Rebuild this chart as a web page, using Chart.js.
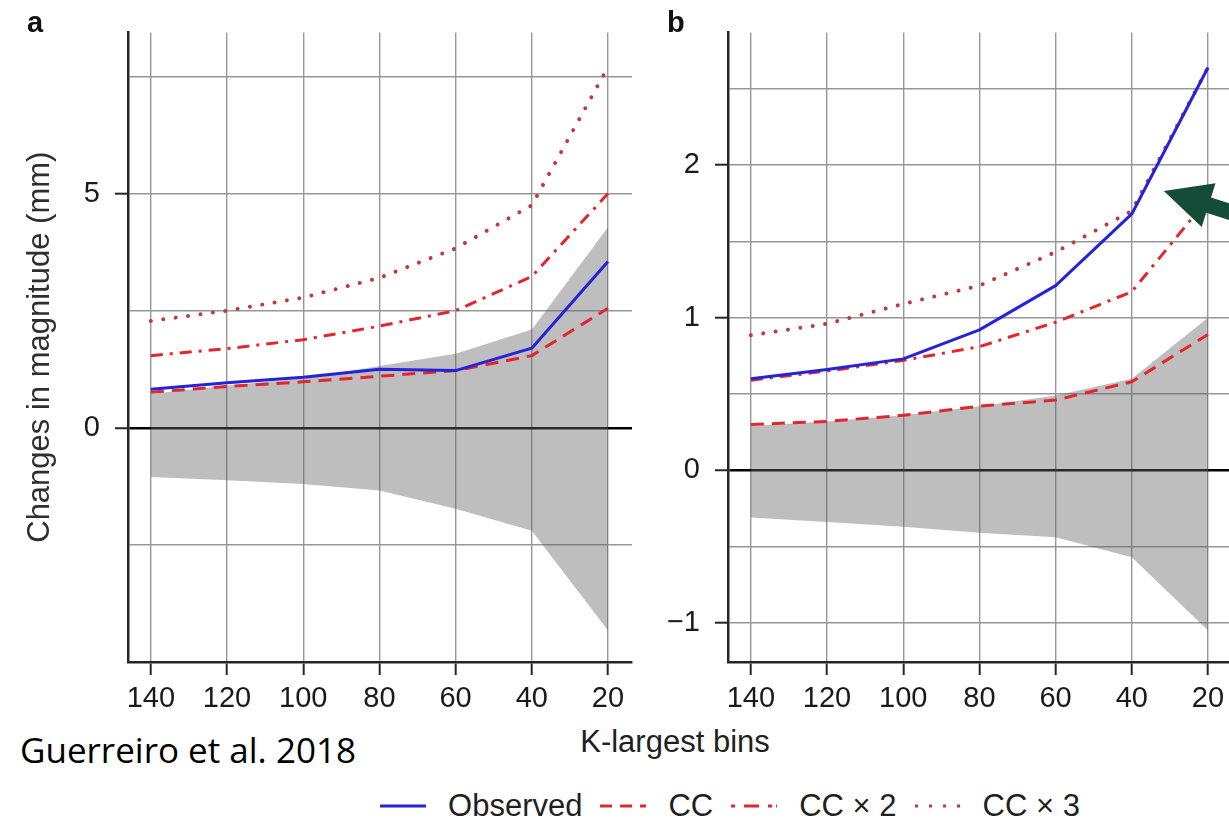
<!DOCTYPE html>
<html>
<head>
<meta charset="utf-8">
<script src="https://cdn.jsdelivr.net/npm/chart.js@4/dist/chart.umd.min.js"></script>
<style>
  html, body { margin: 0; padding: 0; background: #fff; }
  body { position: relative; width: 1229px; height: 822px; overflow: hidden; font-family: 'Liberation Sans', Arial, Helvetica, sans-serif; color: #1a1a1a; }
  canvas { position: absolute; top: 0; }
  #panelA { left: 0; }
  #panelB { left: 640px; }
  .tag { position: absolute; top: 8px; font-weight: bold; font-size: 29px; line-height: 29px; color: #111; }
  #xTitle { position: absolute; left: 675px; top: 726px; transform: translateX(-50%); font-size: 31px; line-height: 31px; color: #1f1f1f; white-space: nowrap; }
  #credit { position: absolute; left: 20px; top: 732px; font-family: 'Open Sans', 'Noto Sans', sans-serif; font-size: 35px; line-height: 35px; color: #000; white-space: nowrap; }
  #legend { position: absolute; left: 730px; top: 790px; transform: translateX(-50%); display: flex; align-items: center; white-space: nowrap; font-size: 31px; line-height: 31px; color: #1f1f1f; }
  #legend .item { display: flex; align-items: center; margin-right: 18px; }
  #legend .item:last-child { margin-right: 0; }
  #legend svg { margin-right: 22px; }
</style>
</head>
<body>
<canvas id="panelA" width="640" height="720"></canvas>
<canvas id="panelB" width="600" height="720"></canvas>
<div class="tag" style="left:27px">a</div>
<div class="tag" style="left:667px">b</div>
<div id="xTitle">K-largest bins</div>
<div id="credit">Guerreiro et al. 2018</div>
<div id="legend"></div>

<script>
// two panels of changes in magnitude vs K-largest bins, with a grey band

const el = (id) => document.getElementById(id);

/* === DATA === */
const bins = [140, 120, 100, 80, 60, 40, 20];
const seriesNames = ['Observed', 'CC', 'CC × 2', 'CC × 3'];

// panel a
const aObserved = [0.82, 0.96, 1.08, 1.25, 1.22, 1.70, 3.55];
const aCC       = [0.76, 0.88, 0.98, 1.10, 1.22, 1.54, 2.55];
const aCC2      = [1.54, 1.69, 1.88, 2.17, 2.50, 3.23, 5.00];
const aCC3      = [2.28, 2.50, 2.78, 3.20, 3.83, 4.75, 7.70];
const aBandLow  = [-1.05, -1.12, -1.20, -1.34, -1.73, -2.20, -4.33];
const aBandHigh = [0.72, 0.90, 1.05, 1.32, 1.58, 2.10, 4.28];
const aYTicks   = [-5, -2.5, 0, 2.5, 5, 7.5];
const aYLabels  = [0, 5];

// panel b
const bObserved = [0.60, 0.66, 0.73, 0.92, 1.21, 1.68, 2.64];
const bCC       = [0.30, 0.32, 0.36, 0.42, 0.46, 0.58, 0.89];
const bCC2      = [0.59, 0.65, 0.72, 0.81, 0.97, 1.17, 1.78];
const bCC3      = [0.885, 0.96, 1.09, 1.21, 1.43, 1.70, 2.64];
const bBandLow  = [-0.31, -0.34, -0.37, -0.41, -0.44, -0.57, -1.05];
const bBandHigh = [0.29, 0.32, 0.36, 0.42, 0.49, 0.60, 1.00];
const bYTicks   = [-1, -0.5, 0, 0.5, 1, 1.5, 2, 2.5];
const bYLabels  = [-1, 0, 1, 2];

// where the green arrow points on panel b
const arrowTip = { k: 31.6, mm: 1.83 };

/* === STYLES === */
const BLUE = '#2323d8';
const RED = '#e3262d';
const RED_DOT = '#c4373a';
const BAND = 'rgba(100,100,100,0.42)';
const GRID = '#979797';
const AXIS = '#262626';
const FONT = "'Liberation Sans', Arial, Helvetica, sans-serif";

const lineStyles = [
  { color: BLUE,    dash: [],             cap: 'butt',  width: 3 },
  { color: RED,     dash: [13, 8],        cap: 'butt',  width: 3 },
  { color: RED,     dash: [12, 7, 3, 7],  cap: 'butt',  width: 3 },
  { color: RED_DOT, dash: [0.01, 12.5],   cap: 'round', width: 4 }
];

const pts = (ys) => bins.map((k, i) => ({ x: k, y: ys[i] }));
const minusFmt = (v) => (v < 0 ? '\u2212' + Math.abs(v) : String(v));

function buildDatasets(lines, low, high) {
  const ds = lines.map((ys, i) => ({
    label: seriesNames[i],
    data: pts(ys),
    borderColor: lineStyles[i].color,
    borderWidth: lineStyles[i].width,
    borderDash: lineStyles[i].dash,
    borderCapStyle: lineStyles[i].cap,
    borderJoinStyle: 'round',
    pointRadius: 0,
    tension: 0,
    fill: false
  }));
  ds.push({ label: 'band-low', data: pts(low), borderWidth: 0, pointRadius: 0, fill: false });
  ds.push({ label: 'band-high', data: pts(high), borderWidth: 0, pointRadius: 0, fill: '-1', backgroundColor: BAND });
  return ds;
}

/* === ARROW (panel b) === */
const arrowPlugin = {
  id: 'arrow',
  afterDraw(chart) {
    const { ctx, scales: { x, y } } = chart;
    if (!chart.options.plugins.arrow || !chart.options.plugins.arrow.show) return;
    const tx = x.getPixelForValue(arrowTip.k);
    const ty = y.getPixelForValue(arrowTip.mm);
    ctx.save();
    ctx.translate(tx, ty);
    ctx.rotate(Math.atan2(0.30, 0.953));
    ctx.fillStyle = '#154c37';
    ctx.beginPath();
    ctx.moveTo(0, 0);
    ctx.lineTo(47, -23);
    ctx.lineTo(47, -8);
    ctx.lineTo(180, -8);
    ctx.lineTo(180, 8);
    ctx.lineTo(47, 8);
    ctx.lineTo(47, 23);
    ctx.closePath();
    ctx.fill();
    ctx.restore();
  }
};

/* === CHART SETUP === */
function makePanel(canvasId, lines, low, high, yMin, yMax, yTicks, yLabels, opts) {
  return new Chart(el(canvasId), {
    type: 'line',
    data: { datasets: buildDatasets(lines, low, high) },
    plugins: [arrowPlugin],
    options: {
      responsive: false,
      animation: false,
      events: [],
      layout: { padding: { left: 0, right: 8, top: opts.top, bottom: 0 } },
      plugins: {
        legend: { display: false },
        tooltip: { enabled: false },
        arrow: { show: !!opts.arrow }
      },
      scales: {
        x: {
          type: 'linear',
          reverse: true,
          min: 13.7,
          max: 146,
          afterBuildTicks: (s) => { s.ticks = bins.map((v) => ({ value: v })); },
          afterFit: (s) => { s.height = 58; },
          border: { display: true, color: AXIS, width: 2.5 },
          grid: { color: GRID, lineWidth: 1.4, drawTicks: true, tickLength: 13, tickColor: AXIS, tickWidth: 2 },
          ticks: {
            autoSkip: false, maxRotation: 0, padding: 7,
            color: '#1a1a1a', font: { family: FONT, size: 29 },
            callback: (v) => String(v)
          }
        },
        y: {
          type: 'linear',
          min: yMin,
          max: yMax,
          afterBuildTicks: (s) => { s.ticks = yTicks.map((v) => ({ value: v })); },
          afterFit: (s) => { s.width = opts.yWidth; },
          border: { display: true, color: AXIS, width: 2.5 },
          grid: {
            color: (c) => (c.tick && c.tick.value === 0 ? '#000' : GRID),
            lineWidth: (c) => (c.tick && c.tick.value === 0 ? 2.5 : 1.4),
            drawTicks: true,
            tickLength: 13,
            tickWidth: 2,
            tickColor: (c) => (c.tick && yLabels.includes(c.tick.value) ? AXIS : 'rgba(0,0,0,0)')
          },
          ticks: {
            padding: 15,
            color: '#1a1a1a', font: { family: FONT, size: 29 },
            callback: (v) => (yLabels.includes(v) ? minusFmt(v) : '')
          },
          title: {
            display: !!opts.yTitle,
            text: opts.yTitle || '',
            color: '#2e2e2e',
            font: { family: FONT, size: 31 },
            padding: { top: 22, bottom: 0 }
          }
        }
      }
    }
  });
}

makePanel('panelA', [aObserved, aCC, aCC2, aCC3], aBandLow, aBandHigh, -5.0, 8.44, aYTicks, aYLabels,
  { top: 25, yWidth: 128, yTitle: 'Changes in magnitude (mm)' });

makePanel('panelB', [bObserved, bCC, bCC2, bCC3], bBandLow, bBandHigh, -1.257, 2.87, bYTicks, bYLabels,
  { top: 28, yWidth: 88, arrow: true });

/* === LEGEND === */
const legendDash = ['', '12 8', '4 9 15 9 4', '3 11'];
const legend = el('legend');
seriesNames.forEach((name, i) => {
  const item = document.createElement('div');
  item.className = 'item';
  const st = lineStyles[i];
  item.innerHTML =
    `<svg width="46" height="10"><line x1="0" y1="5" x2="46" y2="5" stroke="${st.color}" stroke-width="3"` +
    (legendDash[i] ? ` stroke-dasharray="${legendDash[i]}"` : '') +
    `/></svg><span>${name}</span>`;
  legend.appendChild(item);
});
</script>
</body>
</html>
